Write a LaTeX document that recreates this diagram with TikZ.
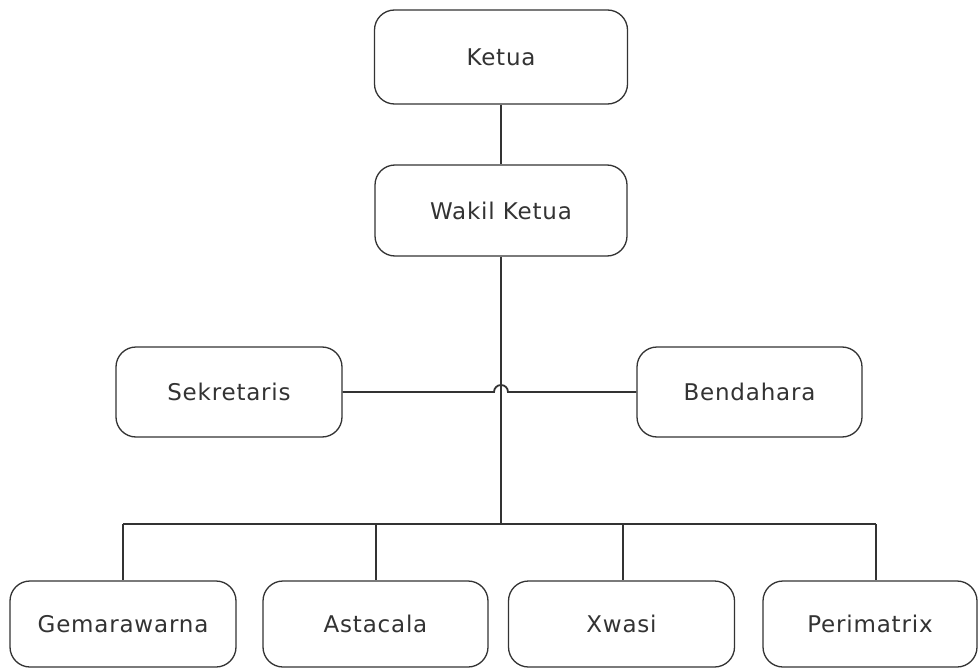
\documentclass[tikz,border=0pt]{standalone}
\usepackage{fontspec}
\setmainfont{DejaVu Sans}[LetterSpace=3.5]
\begin{document}
\begin{tikzpicture}[x=1pt,y=-1pt,
  box/.style={draw=black!80,line width=1.3pt,rounded corners=20pt,fill=white,
    font=\fontsize{23}{26}\selectfont,text=black!80,inner sep=0pt},
  conn/.style={draw=black!80,line width=1.8pt}]
\useasboundingbox (0,0) rectangle (978,669);
\node[box,minimum width=253pt,minimum height=94pt] (ketua) at (501,57) {Ketua};
\node[box,minimum width=252pt,minimum height=91pt] (wakil) at (501,210.5) {Wakil Ketua};
\node[box,minimum width=226pt,minimum height=90pt] (sek) at (229,392) {Sekretaris};
\node[box,minimum width=225pt,minimum height=90pt] (bend) at (749.5,392) {Bendahara};
\node[box,minimum width=226pt,minimum height=86pt] (gem) at (123,624) {Gemarawarna};
\node[box,minimum width=225pt,minimum height=86pt] (ast) at (375.5,624) {Astacala};
\node[box,minimum width=226pt,minimum height=86pt] (xw) at (621.5,624) {Xwasi};
\node[box,minimum width=214pt,minimum height=86pt] (per) at (870,624) {Perimatrix};
\coordinate (hub) at (501,524);
\coordinate (hopL) at (494,392);
\coordinate (lgem) at (123,524);
\coordinate (last) at (376,524);
\coordinate (lxw) at (623,524);
\coordinate (lper) at (876,524);
\draw[conn] (ketua.south) -- (wakil.north);
\draw[conn] (wakil.south) -- (hub);
\draw[conn] (sek.east) -- (hopL) arc[start angle=180,end angle=0,radius=7pt] -- (bend.west);
\draw[conn] (lgem) -- (lper);
\draw[conn] (lgem) -- (lgem |- gem.north);
\draw[conn] (last) -- (last |- ast.north);
\draw[conn] (lxw) -- (lxw |- xw.north);
\draw[conn] (lper) -- (lper |- per.north);
\end{tikzpicture}
\end{document}
